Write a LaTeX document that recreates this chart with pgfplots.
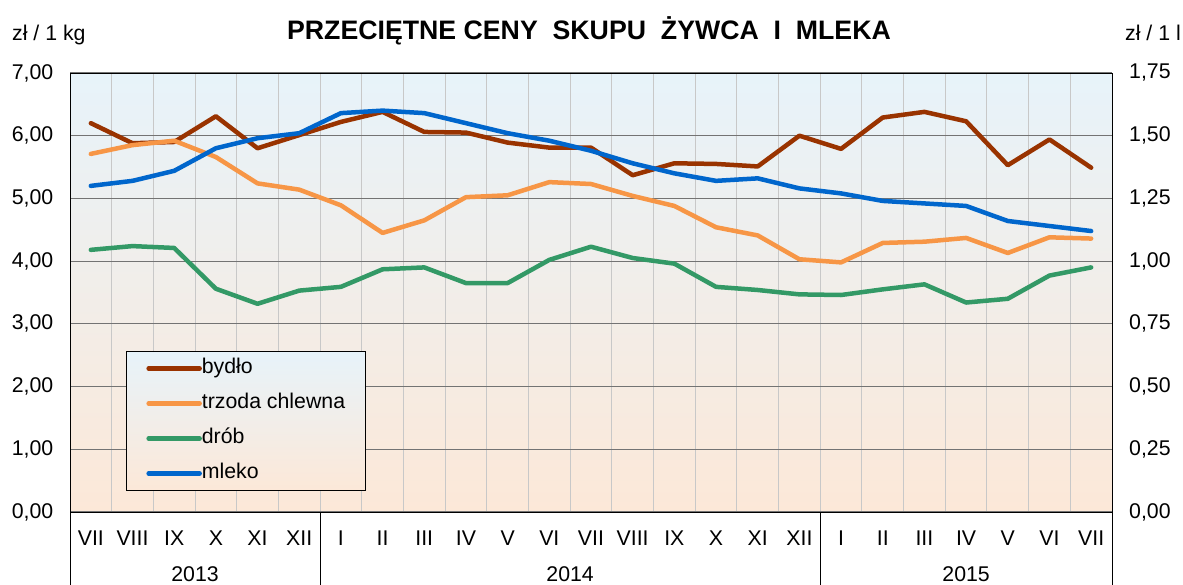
\documentclass[border=0pt]{standalone}
\usepackage{fontspec}
\setmainfont{Liberation Sans}
\usepackage{pgfplots}
\pgfplotsset{compat=1.18}
\definecolor{cbrown}{RGB}{153,51,0}
\definecolor{corange}{RGB}{247,150,70}
\definecolor{cgreen}{RGB}{51,153,102}
\definecolor{cblue}{RGB}{0,102,204}
\definecolor{bgtop}{RGB}{231,243,250}
\definecolor{bgmid}{RGB}{242,239,234}
\definecolor{bgbot}{RGB}{252,232,216}
\definecolor{gridd}{RGB}{115,115,115}
\definecolor{gridl}{RGB}{200,200,200}
\newcommand\lbl{\fontsize{21.3}{25}\selectfont}
\begin{document}
\begin{tikzpicture}
\useasboundingbox (0pt,0pt) rectangle (1183pt,585pt);
\node[anchor=base, font=\fontsize{26.7}{30}\selectfont\bfseries] at (589pt,545.5pt) {PRZECIĘTNE CENY\ \ SKUPU\ \ ŻYWCA\ \ I\ \ MLEKA};
\node[anchor=base west, inner sep=0pt, font=\lbl] at (12pt,544pt) {zł / 1 kg};
\node[anchor=base west, inner sep=0pt, font=\lbl] at (1125pt,544pt) {zł / 1 l};
\begin{axis}[
  at={(70pt,73pt)}, anchor=south west,
  scale only axis, width=1042pt, height=439pt,
  xmin=-0.5, xmax=24.5, ymin=0, ymax=7,
  clip=false,
  axis line style={black, line width=0.9pt},
  axis background/.style={top color=bgtop, middle color=bgmid, bottom color=bgbot},
  xtick={0,...,24},
  xticklabels={VII,VIII,IX,X,XI,XII,I,II,III,IV,V,VI,VII,VIII,IX,X,XI,XII,I,II,III,IV,V,VI,VII},
  xticklabel style={font=\lbl, anchor=base, inner sep=0pt, yshift=-33.7pt},
  minor xtick={0.5,1.5,...,23.5},
  xminorgrids,
  minor x grid style={gridl, line width=1pt},
  minor tick length=0pt,
  major tick length=0pt,
  xtick pos=lower, ytick pos=left,
  extra x ticks={-0.5,5.5,17.5,24.5},
  extra x tick labels={},
  extra x tick style={grid=none, tick align=outside, major tick length=73pt, major tick style={black, line width=0.9pt}},
  ytick={0,1,...,7},
  ymajorgrids,
  major y grid style={gridd, line width=1.2pt},
  yticklabel style={font=\lbl, inner sep=0pt, xshift=-16.5pt},
  /pgf/number format/.cd, fixed, fixed zerofill, precision=2, use comma, assume math mode=true,
  /pgfplots/.cd,
  legend cell align=left,
  legend image code/.code={\draw[#1, line cap=round] (2pt,0pt) -- (53pt,0pt);},
  legend style={
    at={(0.0537,0.048)}, anchor=south west,
    draw=black, line width=0.9pt,
    top color=bgtop, bottom color=bgbot,
    inner xsep=20pt, inner ysep=7pt,
    row sep=15pt,
    font=\lbl,
    nodes={inner sep=0pt, text height=15pt, text depth=5pt},
    /tikz/every even column/.append style={column sep=4pt},
  },
  every axis plot/.append style={line width=4.5pt, line join=round, line cap=round},
]
\addplot[cbrown] coordinates {
(0,6.20) (1,5.88) (2,5.90) (3,6.31) (4,5.80) (5,6.01) (6,6.22) (7,6.38) (8,6.06) (9,6.05)
(10,5.89) (11,5.81) (12,5.81) (13,5.37) (14,5.56) (15,5.55) (16,5.51) (17,6.00) (18,5.79)
(19,6.29) (20,6.38) (21,6.23) (22,5.53) (23,5.94) (24,5.49)};
\addlegendentry{bydło}
\addplot[corange] coordinates {
(0,5.71) (1,5.85) (2,5.92) (3,5.66) (4,5.24) (5,5.14) (6,4.89) (7,4.45) (8,4.65) (9,5.02)
(10,5.05) (11,5.26) (12,5.23) (13,5.04) (14,4.88) (15,4.54) (16,4.41) (17,4.03) (18,3.98)
(19,4.29) (20,4.31) (21,4.37) (22,4.13) (23,4.38) (24,4.36)};
\addlegendentry{trzoda chlewna}
\addplot[cgreen] coordinates {
(0,4.18) (1,4.24) (2,4.21) (3,3.56) (4,3.32) (5,3.53) (6,3.59) (7,3.87) (8,3.90) (9,3.65)
(10,3.65) (11,4.02) (12,4.23) (13,4.05) (14,3.96) (15,3.59) (16,3.54) (17,3.47) (18,3.46)
(19,3.55) (20,3.63) (21,3.34) (22,3.40) (23,3.77) (24,3.90)};
\addlegendentry{drób}
\addlegendimage{cblue, line width=4.5pt}
\addlegendentry{mleko}
\node[anchor=base, font=\lbl] at (axis cs:2.5,0) [yshift=-69.5pt] {2013};
\node[anchor=base, font=\lbl] at (axis cs:11.5,0) [yshift=-69.5pt] {2014};
\node[anchor=base, font=\lbl] at (axis cs:21,0) [yshift=-69.5pt] {2015};
\end{axis}
\begin{axis}[
  at={(70pt,73pt)}, anchor=south west,
  scale only axis, width=1042pt, height=439pt,
  xmin=-0.5, xmax=24.5, ymin=0, ymax=1.75,
  axis x line=none,
  axis y line*=right,
  axis line style={black, line width=0.9pt},
  major tick length=0pt,
  ytick={0,0.25,0.5,0.75,1,1.25,1.5,1.75},
  yticklabel style={font=\lbl, inner sep=0pt, xshift=17pt},
  /pgf/number format/.cd, fixed, fixed zerofill, precision=2, use comma, assume math mode=true,
  /pgfplots/.cd,
  every axis plot/.append style={line width=4.5pt, line join=round, line cap=round},
]
\addplot[cblue] coordinates {
(0,1.30) (1,1.32) (2,1.36) (3,1.45) (4,1.49) (5,1.51) (6,1.59) (7,1.60) (8,1.59) (9,1.55)
(10,1.51) (11,1.48) (12,1.44) (13,1.39) (14,1.35) (15,1.32) (16,1.33) (17,1.29) (18,1.27)
(19,1.24) (20,1.23) (21,1.22) (22,1.16) (23,1.14) (24,1.12)};
\end{axis}
\end{tikzpicture}
\end{document}
